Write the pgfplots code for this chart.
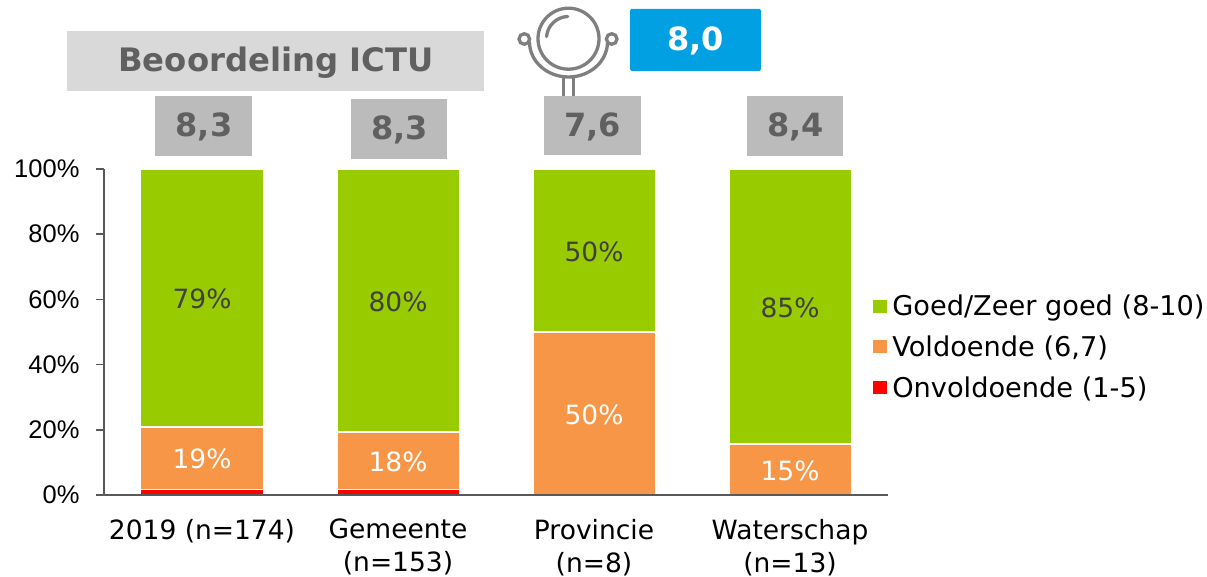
\documentclass[border=0pt]{standalone}
\usepackage{pgfplots}
\pgfplotsset{compat=1.18}
\usepackage{fontspec}
\setmainfont{DejaVu Sans}
\newfontfamily\arialf{Liberation Sans}
\definecolor{cg}{HTML}{99CC00}
\definecolor{co}{HTML}{F79646}
\definecolor{cr}{HTML}{FF0000}
\definecolor{ax}{HTML}{595959}
\definecolor{bx}{HTML}{BBBBBB}
\definecolor{tx}{HTML}{606060}
\definecolor{bl}{HTML}{00A0E3}
\definecolor{ic}{HTML}{7F7F7F}
\definecolor{bn}{HTML}{D9D9D9}
\newcommand{\fs}[1]{\fontsize{#1}{33}\selectfont}
\begin{document}
\begin{tikzpicture}
\path[use as bounding box] (0pt,0pt) rectangle (1207pt,577pt);
\begin{axis}[
  at={(104pt,82pt)}, anchor=south west,
  scale only axis, width=784pt, height=326pt,
  ybar stacked, bar width=122.5pt,
  xmin=-0.5, xmax=3.5, ymin=0, ymax=100,
  xtick={0,1,2,3},
  xticklabels={{2019 (n=174)},{Gemeente\\(n=153)},{Provincie\\(n=8)},{Waterschap\\(n=13)}},
  xticklabel style={align=center, font=\fs{26.5}, text=black, yshift=-12.5pt},
  ytick={0,20,40,60,80,100},
  yticklabel={\pgfmathprintnumber{\tick}\%},
  yticklabel style={font=\arialf\fs{25.5}, text=black, xshift=-13pt},
  /pgf/number format/assume math mode=true,
  axis x line=bottom, axis y line=left,
  axis line style={ax, line width=2.6pt, -},
  major tick style={ax, line width=1.6pt},
  major x tick style={draw=none},
  tick align=outside, major tick length=8pt,
  axis on top,
  clip=false,
  legend cell align=left,
  reverse legend,
  legend style={at={(0.981,0.454)}, anchor=west, draw=none, fill=none,
    font=\fs{27.2}, row sep=14.5pt, inner sep=0pt},
  legend image code/.code={\fill[#1,draw=none] (0pt,-6.5pt) rectangle (14pt,6.5pt);\path[draw=none,fill=none] (0pt,0pt) -- (17pt,0pt);},
  every node near coord/.style={anchor=center, font=\fs{26.5}, yshift=-1pt},
]
\addplot[fill=cr, draw=white, line width=1.5pt] coordinates {(0,1.7) (1,1.7) (2,0) (3,0)};
\addlegendentry{Onvoldoende (1-5)}
\addplot[fill=co, draw=white, line width=1.5pt, point meta=explicit symbolic,
  nodes near coords, every node near coord/.append style={text=white}]
  coordinates {(0,19.1) [19\%] (1,17.7) [18\%] (2,50) [50\%] (3,15.6) [15\%]};
\addlegendentry{Voldoende (6,7)}
\addplot[fill=cg, draw=white, line width=1.5pt, point meta=explicit symbolic,
  nodes near coords, every node near coord/.append style={text={black!75}}]
  coordinates {(0,79.2) [79\%] (1,80.6) [80\%] (2,50) [50\%] (3,84.4) [85\%]};
\addlegendentry{Goed/Zeer goed (8-10)}
\end{axis}
\begin{scope}[x=1pt,y=-1pt,yshift=577pt]
\fill[bn] (67,31) rectangle (484,91);
\node[font=\bfseries\fs{32.3}, text=tx] at (276,62.5) {Beoordeling ICTU};
\fill[bx] (155,96) rectangle (252,156);
\node[font=\bfseries\fs{32}, text=tx] at (204,127) {8,3};
\fill[bx] (351,99) rectangle (447,159);
\node[font=\bfseries\fs{32}, text=tx] at (399.5,130) {8,3};
\fill[bx] (544,96) rectangle (641,155);
\node[font=\bfseries\fs{32}, text=tx] at (592.5,127) {7,6};
\fill[bx] (747,96) rectangle (843,156);
\node[font=\bfseries\fs{32}, text=tx] at (795.5,127) {8,4};
\fill[bl, rounded corners=1.5pt] (630,9) rectangle (761,71);
\node[font=\bfseries\fs{32}, text=white] at (695.5,41) {8,0};
\begin{scope}[draw=ic, line width=3.3pt, line cap=round]
\draw (568.5,38.7) circle (30.5);
\draw (567.7,16.5) arc (268:185:22);
\draw (529.5,42) arc (180:0:39 and 35);
\draw[fill=white] (524.3,39) circle (5.3);
\draw[fill=white] (611.7,39) circle (5.3);
\draw[line cap=butt] (563.5,77) -- (563.5,96);
\draw[line cap=butt] (573.5,77) -- (573.5,96);
\end{scope}
\end{scope}
\end{tikzpicture}
\end{document}
